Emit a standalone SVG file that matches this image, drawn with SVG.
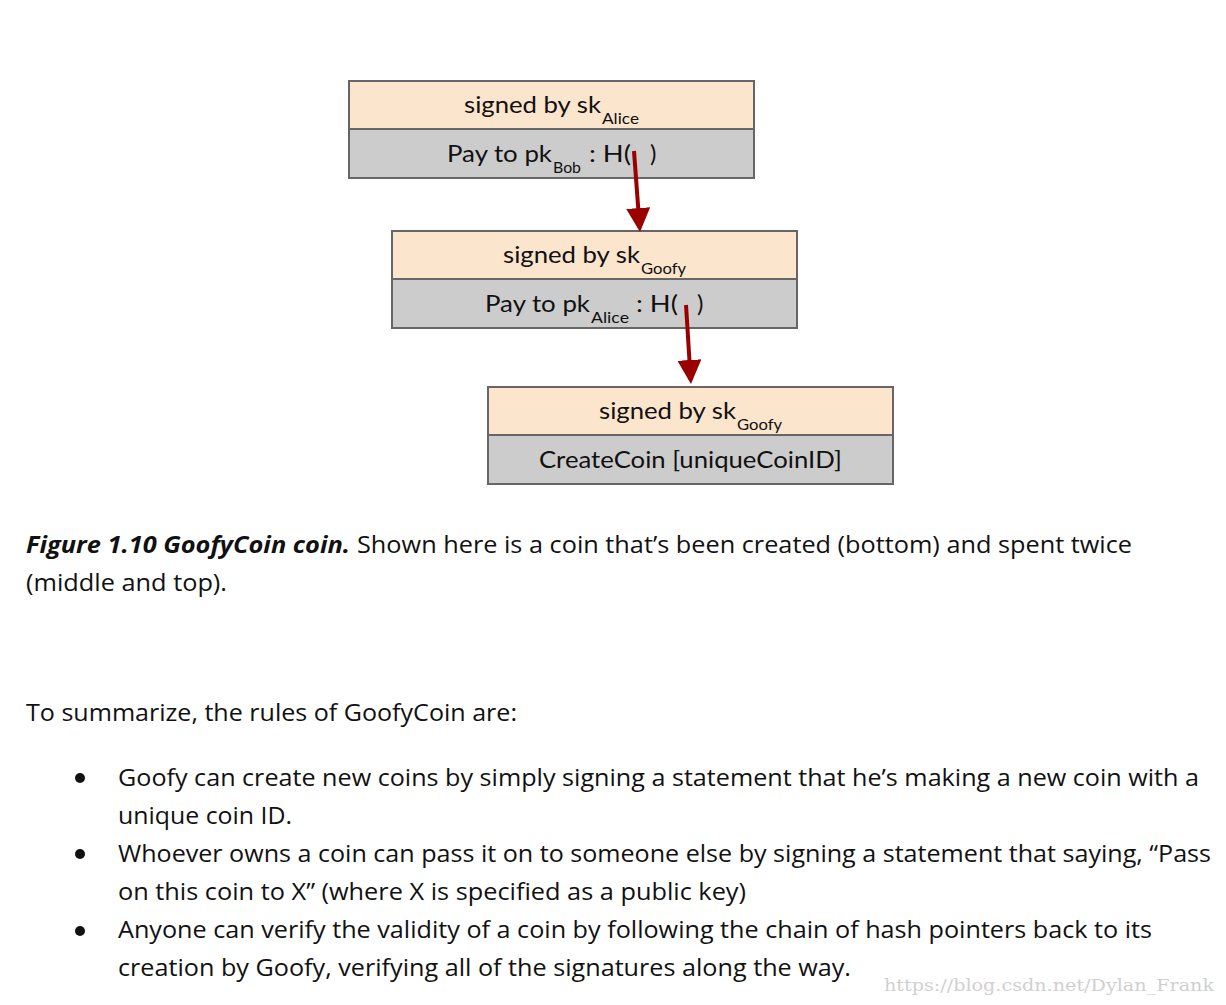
<svg xmlns="http://www.w3.org/2000/svg" width="1226" height="1005" viewBox="0 0 1226 1005">
<style>
.top{fill:#fce5cd;stroke:#666;stroke-width:2}
.bot{fill:#cccccc;stroke:#666;stroke-width:2}
.bt{font-family:Lato,"Open Sans",sans-serif;font-size:24px;fill:#111}
.sb{font-family:Lato,"Open Sans",sans-serif;font-size:16px;fill:#111}
.tx{font-family:"Open Sans",Lato,sans-serif;font-size:23px;fill:#111}
.cb{font-family:"Open Sans",Lato,sans-serif;font-size:23px;font-weight:bold;font-style:italic;fill:#111}
.wm{font-family:"DejaVu Serif","Liberation Serif",serif;font-size:17px;fill:#d0d0d0}
.arr{stroke:#990000;stroke-width:4;fill:none}
</style>
<defs>
<marker id="ah" markerWidth="6" markerHeight="6" refX="5" refY="3" orient="auto" markerUnits="strokeWidth">
<path d="M0,0 L6,3 L0,6 Z" fill="#990000"/>
</marker>
</defs>
<rect width="1226" height="1005" fill="#fff"/>
<g id="node1">
<rect class="top" x="349" y="81" width="405" height="48"/>
<rect class="bot" x="349" y="129" width="405" height="49"/>
<text class="bt" x="464" y="113" textLength="137" lengthAdjust="spacingAndGlyphs">signed by sk</text>
<text class="sb" x="602" y="124" textLength="37" lengthAdjust="spacingAndGlyphs">Alice</text>
<text class="bt" x="447" y="162" textLength="105" lengthAdjust="spacingAndGlyphs">Pay to pk</text>
<text class="sb" x="553" y="173" textLength="28" lengthAdjust="spacingAndGlyphs">Bob</text>
<text class="bt" x="589" y="162" textLength="42" lengthAdjust="spacingAndGlyphs">: H(</text>
<text class="bt" x="650" y="162">)</text>
</g>
<g id="node2">
<rect class="top" x="392" y="231" width="405" height="48"/>
<rect class="bot" x="392" y="279" width="405" height="49"/>
<text class="bt" x="503" y="263" textLength="137" lengthAdjust="spacingAndGlyphs">signed by sk</text>
<text class="sb" x="641" y="274" textLength="45" lengthAdjust="spacingAndGlyphs">Goofy</text>
<text class="bt" x="485" y="312" textLength="105" lengthAdjust="spacingAndGlyphs">Pay to pk</text>
<text class="sb" x="591" y="323" textLength="38" lengthAdjust="spacingAndGlyphs">Alice</text>
<text class="bt" x="636" y="312" textLength="42" lengthAdjust="spacingAndGlyphs">: H(</text>
<text class="bt" x="697" y="312">)</text>
</g>
<g id="node3">
<rect class="top" x="488" y="387" width="405" height="48"/>
<rect class="bot" x="488" y="435" width="405" height="49"/>
<text class="bt" x="599" y="419" textLength="137" lengthAdjust="spacingAndGlyphs">signed by sk</text>
<text class="sb" x="737" y="430" textLength="45" lengthAdjust="spacingAndGlyphs">Goofy</text>
<text class="bt" x="539" y="468" textLength="303" lengthAdjust="spacingAndGlyphs">CreateCoin [uniqueCoinID]</text>
</g>
<g id="connectors">
<line class="arr" x1="634" y1="151" x2="639.7" y2="228" marker-end="url(#ah)"/>
<line class="arr" x1="686" y1="305" x2="690.7" y2="380" marker-end="url(#ah)"/>
</g>
<g id="text">
<text class="cb" x="26" y="553" textLength="324" lengthAdjust="spacingAndGlyphs">Figure 1.10 GoofyCoin coin.</text>
<text class="tx" x="357" y="553" textLength="775" lengthAdjust="spacingAndGlyphs">Shown here is a coin that’s been created (bottom) and spent twice</text>
<text class="tx" x="26" y="591" textLength="201" lengthAdjust="spacingAndGlyphs">(middle and top).</text>
<text class="tx" x="26" y="721" textLength="491" lengthAdjust="spacingAndGlyphs">To summarize, the rules of GoofyCoin are:</text>
<circle cx="80" cy="778" r="5" fill="#111"/>
<circle cx="80" cy="854" r="5" fill="#111"/>
<circle cx="80" cy="931" r="5" fill="#111"/>
<text class="tx" x="118" y="786" textLength="1081" lengthAdjust="spacingAndGlyphs">Goofy can create new coins by simply signing a statement that he’s making a new coin with a</text>
<text class="tx" x="118" y="824" textLength="174" lengthAdjust="spacingAndGlyphs">unique coin ID.</text>
<text class="tx" x="118" y="862" textLength="1093" lengthAdjust="spacingAndGlyphs">Whoever owns a coin can pass it on to someone else by signing a statement that saying, “Pass</text>
<text class="tx" x="118" y="900" textLength="628" lengthAdjust="spacingAndGlyphs">on this coin to X” (where X is specified as a public key)</text>
<text class="tx" x="118" y="938" textLength="1034" lengthAdjust="spacingAndGlyphs">Anyone can verify the validity of a coin by following the chain of hash pointers back to its</text>
<text class="tx" x="118" y="976" textLength="733" lengthAdjust="spacingAndGlyphs">creation by Goofy, verifying all of the signatures along the way.</text>
<text class="wm" x="884" y="991" textLength="330" lengthAdjust="spacingAndGlyphs">https://blog.csdn.net/Dylan_Frank</text>
</g>
</svg>
